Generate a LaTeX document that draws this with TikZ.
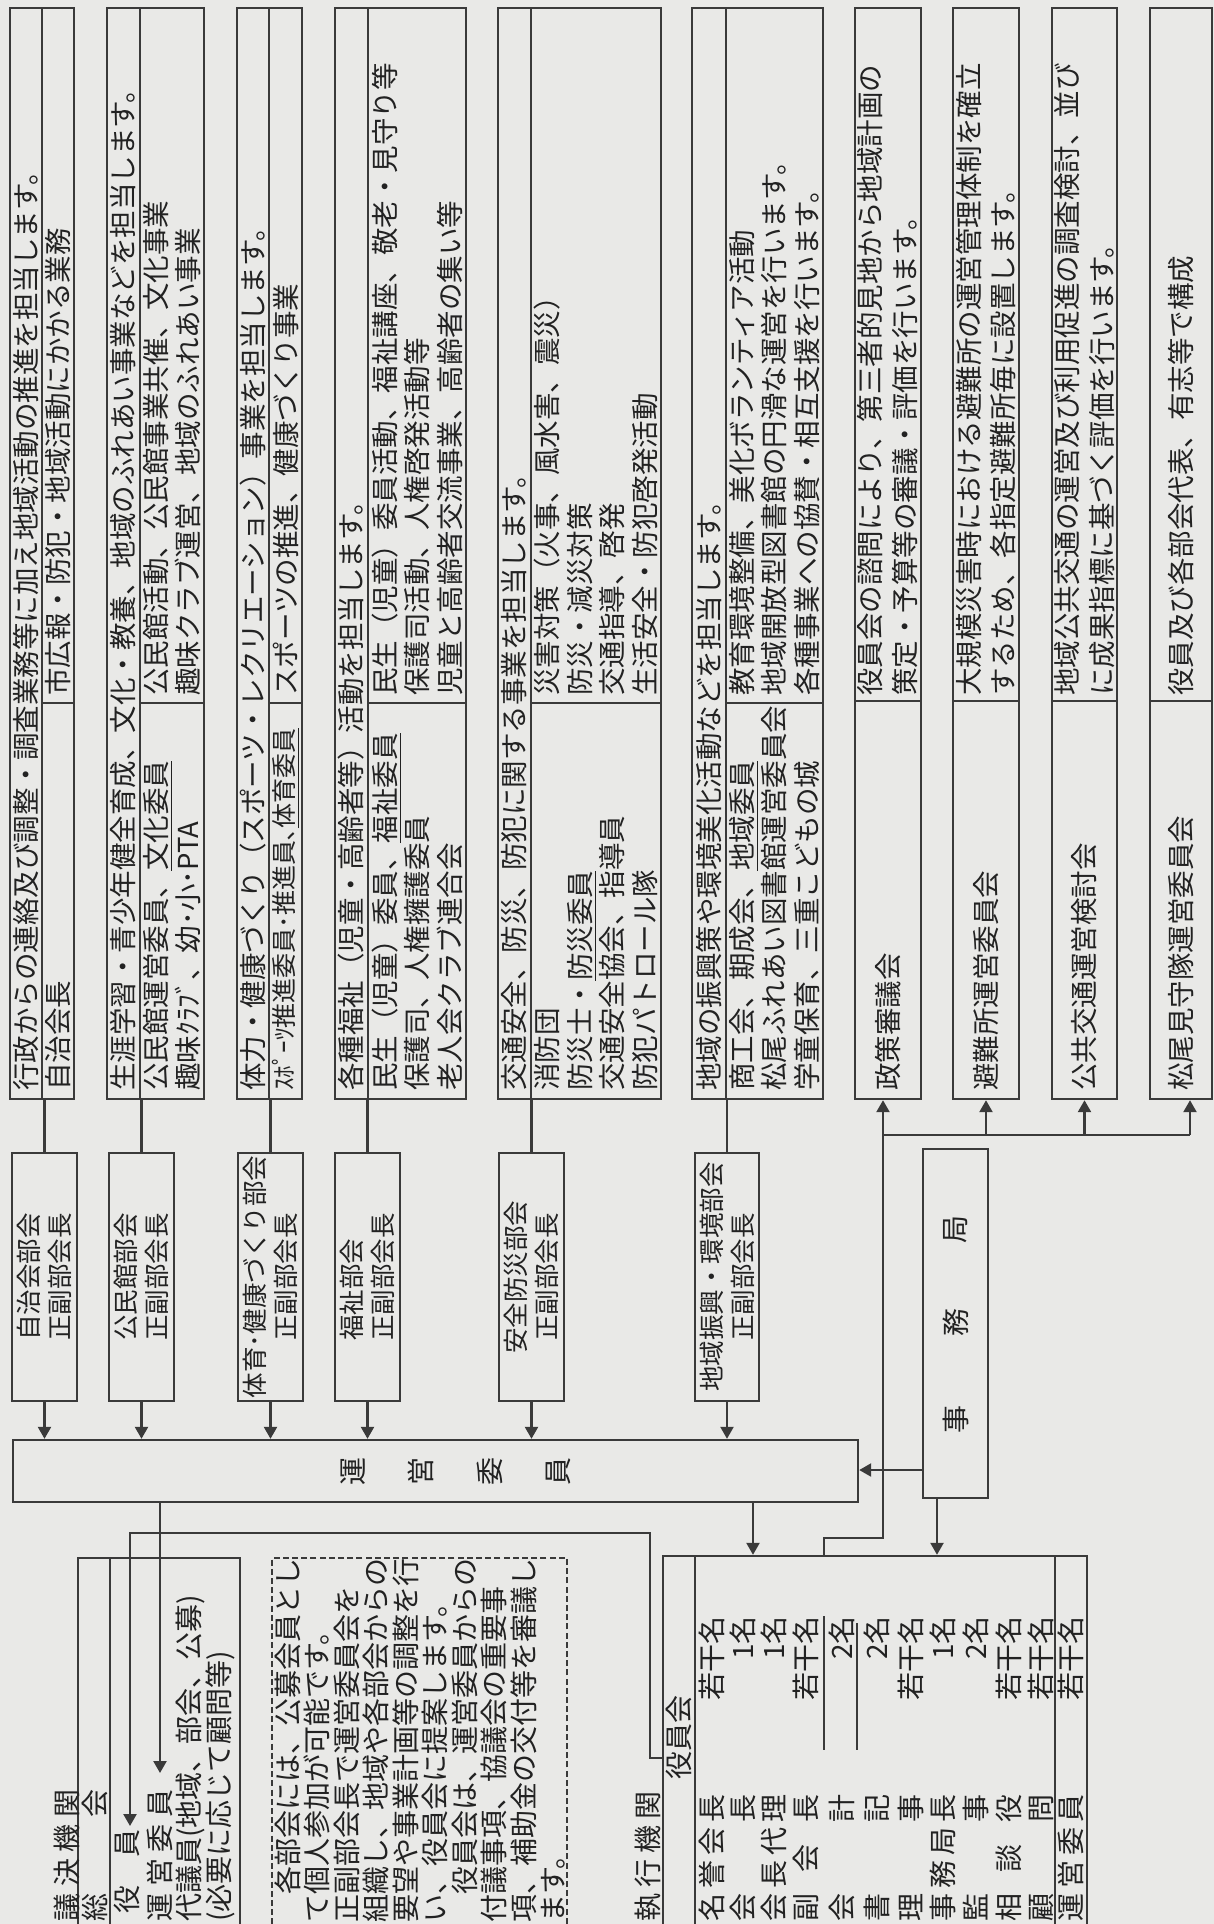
\documentclass[tikz,border=0pt]{standalone}
\usepackage{fontspec}
\setmainfont{Noto Sans CJK JP}
\usepackage{tikz}
\usetikzlibrary{arrows.meta,fit}
\definecolor{orgpaper}{RGB}{233,233,231}
\definecolor{orgline}{RGB}{58,58,58}
\definecolor{orgink}{RGB}{34,34,34}
\newcommand\fsA{\fontsize{13.75}{16.25}\selectfont}
\newcommand\fsB{\fontsize{14}{14.75}\selectfont}
\newcommand\fsC{\fontsize{12.75}{15.5}\selectfont}
\newcommand\spread[2]{\makebox[#1]{#2}}
\tikzset{
  orgbox/.style={draw=orgline, line width=1.2pt, inner sep=0pt},
  dashbox/.style={orgbox, dash pattern=on 3pt off 1.6pt},
  lnk/.style={draw=orgline, line width=1.2pt},
  arr/.style={lnk, -{Triangle[length=6pt,width=6.5pt]}},
  vt/.style={rotate=90, inner sep=0pt, text=orgink, font=\fsA},
  vtb/.style={vt, font=\fsB},
  lt/.style={vt, anchor=west, align=left},
  ltb/.style={vtb, anchor=west, align=left},
  rtb/.style={vtb, anchor=east},
  dept/.style={vt, font=\fsC, align=center}
}

\begin{document}
\begin{tikzpicture}[x=0.5pt,y=0.5pt]
  \useasboundingbox (0,0) rectangle (1214,-1924);
  \fill[orgpaper] (0,0) rectangle (1214,-1924);
  \clip (0,0) rectangle (1214,-1924);

  % central boxes
  \node[orgbox, fit={(13,-1440) (858,-1502)}] (unei) {};
  \node[orgbox, fit={(923,-1149) (988,-1498)}] (jimu) {};
  \node[orgbox, fit={(663,-1556) (1087,-1960)}] (yaku) {};
  \node[orgbox, fit={(78,-1558) (240,-1960)}] (gike) {};
  \node[dashbox, fit={(272,-1558) (567,-1960)}] (note) {};
  \foreach \c/\x in {運/353, 営/421, 委/490, 員/558}
    \node[vtb] (uc\x) at (\x,-1471) {\c};
  \foreach \c/\y in {事/1419, 務/1322, 局/1229}
    \node[vtb] (jc\y) at (956,-\y) {\c};

  % the six sections: description, then the section box
  \foreach \t/\m/\b [count=\i] in {10/42/74, 107/140/204, 237/269/302,
                                   335/368/466, 498/531/661, 692/726/823} {
    \node[orgbox, fit={(\t,-8) (\b,-1099)}] (d\i) {};
    \draw[lnk] (\m,-8) -- (\m,-1099);
    \draw[lnk] (\m,-703) -- (\b,-703);
  }
  \foreach \l/\r [count=\i] in {12/77, 109/174, 238/303, 335/400, 499/564, 695/759} {
    \node[orgbox, fit={(\l,-1153) (\r,-1401)}] (b\i) {};
    \draw[lnk] (b\i.north) -- (b\i.north |- d\i.south);
    \draw[arr] (b\i.south) -- (b\i.south |- unei.north);
  }
  \node[dept] (bt1) at (b1) {自治会部会\\正副部会長};
  \node[dept] (bt2) at (b2) {公民館部会\\正副部会長};
  \node[dept] (bt3) at (b3) {体育･健康づくり部会\\正副部会長};
  \node[dept, align=left] (bt4) at (b4) {福祉部会\\正副部会長};
  \node[dept] (bt5) at (b5) {安全防災部会\\正副部会長};
  \node[dept] (bt6) at (b6) {地域振興・環境部会\\正副部会長};

  \node[lt] (h1) at (26,-1091) {行政からの連絡及び調整・調査業務等に加え地域活動の推進を担当します。};
  \node[lt] (m1) at (58,-1091) {自治会長};
  \node[lt] (a1) at (58,-696) {市広報・防犯・地域活動にかかる業務};

  \node[lt] (h2) at (123,-1091) {生涯学習・青少年健全育成、文化・教養、地域のふれあい事業などを担当します。};
  \node[lt] (m2) at (172,-1091) {公民館運営委員、\underline{文化委員}\\趣味ｸﾗﾌﾞ、幼･小･PTA};
  \node[lt] (a2) at (172,-696) {公民館活動、公民館事業共催、文化事業\\趣味クラブ運営、地域のふれあい事業};

  \node[lt] (h3) at (253,-1091) {体力・健康づくり（スポーツ・レクリエーション）事業を担当します。};
  \node[lt, font=\fontsize{12.5}{15}\selectfont] (m3) at (285.5,-1091) {ｽﾎﾟｰﾂ推進委員･推進員､\underline{体育委員}};
  \node[lt] (a3) at (285.5,-696) {スポーツの推進、健康づくり事業};

  \node[lt] (h4) at (351.5,-1091) {各種福祉（児童・高齢者等）活動を担当します。};
  \node[lt] (m4) at (417,-1091) {民生（児童）委員、\underline{福祉委員}\\保護司、人権擁護委員\\老人会クラブ連合会};
  \node[lt] (a4) at (417,-696) {民生（児童）委員活動、福祉講座、敬老・見守り等\\保護司活動、人権啓発活動等\\児童と高齢者交流事業、高齢者の集い等};

  \node[lt] (h5) at (514,-1091) {交通安全、防災、防犯に関する事業を担当します。};
  \node[lt] (m5) at (596,-1091) {消防団\\防災士・\underline{防災委員}\\交通安全協会、指導員\\防犯パトロール隊};
  \node[lt] (a5) at (596,-696) {災害対策（火事、風水害、震災）\\防災・減災対策\\交通指導、啓発\\生活安全・防犯啓発活動};

  \node[lt] (h6) at (709,-1091) {地域の振興策や環境美化活動などを担当します。};
  \node[lt] (m6) at (774.5,-1091) {商工会、期成会、\underline{地域委員}\\松尾ふれあい図書館運営委員会\\学童保育、三重こどもの城};
  \node[lt] (a6) at (774.5,-696) {教育環境整備、美化ボランティア活動\\地域開放型図書館の円滑な運営を行います。\\各種事業への協賛・相互支援を行います。};

  % committees under the executive board
  \foreach \l/\r [count=\i from 7] in {855/921, 953/1019, 1052/1117, 1150/1212} {
    \node[orgbox, fit={(\l,-8) (\r,-1099)}] (d\i) {};
    \draw[lnk] (\l,-701) -- (\r,-701);
  }
  \node[lt] (n7) at (888,-1091) {政策審議会};
  \node[lt] (c7) at (888,-696) {役員会の諮問により、第三者的見地から地域計画の\\[1.2pt]策定・予算等の審議・評価を行います。};
  \node[lt] (n8) at (986,-1091) {避難所運営委員会};
  \node[lt] (c8) at (986,-696) {大規模災害時における避難所の運営管理体制を確立\\[1.2pt]するため、各指定避難所毎に設置します。};
  \node[lt] (n9) at (1084.5,-1091) {公共交通運営検討会};
  \node[lt] (c9) at (1084.5,-696) {地域公共交通の運営及び利用促進の調査検討、並び\\[1.2pt]に成果指標に基づく評価を行います。};
  \node[lt] (n10) at (1181,-1091) {松尾見守隊運営委員会};
  \node[lt] (c10) at (1181,-696) {役員及び各部会代表、有志等で構成};

  \coordinate (k1) at (824,-1538);
  \coordinate (k2) at (883,-1538);
  \coordinate (k3) at (883,-1135);
  \coordinate (k4) at (1190,-1135);
  \draw[arr] (yaku.north -| k1) -- (k1) -- (k2) -- (d7.south -| k2);
  \draw[lnk] (k3) -- (k4);
  \foreach \i in {8,9}
    \draw[arr] (d\i.south |- k3) -- (d\i.south);
  \draw[arr] (k4) -- (d10.south -| k4);

  % office and board arrows
  \coordinate (jy) at (0,-1470);
  \coordinate (jx) at (937,0);
  \coordinate (ux) at (753,0);
  \draw[arr] (jimu.west |- jy) -- (unei.east |- jy);
  \draw[arr] (jimu.south -| jx) -- (yaku.north -| jx);
  \draw[arr] (unei.south -| ux) -- (yaku.north -| ux);

  % decision body
  \draw[lnk] (110,-1558) -- (110,-1960);
  \node[ltb] (g0) at (67,-1922) {\spread{66pt}{議\hfill 決\hfill 機\hfill 関}};
  \node[ltb] (g1) at (95,-1922) {\spread{66pt}{総\hfill 会}};
  \node[ltb] (g2) at (127,-1914) {役　員};
  \node[ltb] (g3) at (160,-1922) {\spread{66pt}{運\hfill 営\hfill 委\hfill 員}};
  \node[ltb] (g4) at (190,-1922) {代議員(地域、部会、公募)};
  \node[ltb] (g5) at (220,-1922) {(必要に応じて顧問等)};
  \coordinate (e1) at (650,-1758);
  \coordinate (e2) at (650,-1533);
  \coordinate (e3) at (130,-1533);
  \coordinate (e4) at (130,-1826);
  \draw[arr] (yaku.west |- e1) -- (e1) -- (e2) -- (e3) -- (e4);
  \coordinate (f1) at (160,-1773);
  \draw[arr] (unei.south -| f1) -- (f1);

  \node[vtb, anchor=north west, align=left] (nt) at (274,-1923)
    {　各部会には、公募会員とし\\て個人参加が可能です。\\正副部会長で運営委員会を\\組織し、地域や各部会からの\\要望や事業計画等の調整を行\\い、役員会に提案します。\\　役員会は、運営委員からの\\付議事項、協議会の重要事\\項、補助金の交付等を審議し\\ます。};

  % executive body
  \draw[lnk] (695,-1556) -- (695,-1960);
  \draw[lnk] (1055,-1556) -- (1055,-1960);
  \node[ltb] (x0) at (648,-1922) {\spread{65pt}{執\hfill 行\hfill 機\hfill 関}};
  \node[ltb] (x1) at (679,-1780) {役員会};
  \foreach \nm/\num/\x [count=\i] in {
      {名\hfill 誉\hfill 会\hfill 長}/若干名/712,
      {会\hfill 長}/1名/743,
      {会\hfill 長\hfill 代\hfill 理}/1名/774,
      {副\hfill 会\hfill 長}/若干名/806,
      {会\hfill 計}/2名/842,
      {書\hfill 記}/2名/877,
      {理\hfill 事}/若干名/911,
      {事\hfill 務\hfill 局\hfill 長}/1名/943,
      {監\hfill 事}/2名/976,
      {相\hfill 談\hfill 役}/若干名/1009,
      {顧\hfill 問}/若干名/1041,
      {運\hfill 営\hfill 委\hfill 員}/若干名/1071} {
    \node[ltb] (yn\i) at (\x,-1922) {\spread{63.5pt}{\nm}};
    \node[rtb] (yv\i) at (\x,-1616) {\num};
  }
  \draw[lnk] (824,-1616) -- (824,-1750);
  \draw[lnk] (857,-1623) -- (857,-1750);
\end{tikzpicture}
\end{document}
